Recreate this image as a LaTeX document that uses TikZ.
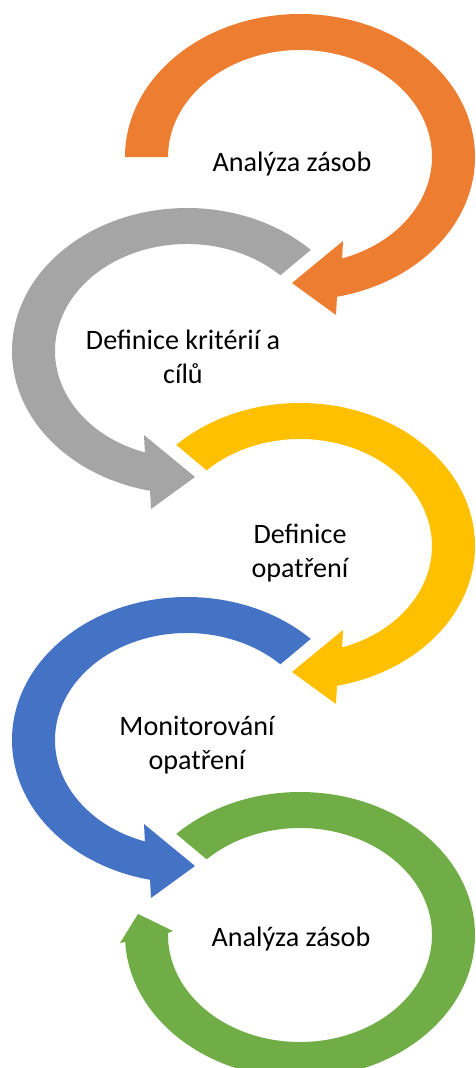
\documentclass[tikz,border=0pt]{standalone}
\usepackage{fontspec}
\setmainfont{Carlito}
\usepackage{tikz}
\usetikzlibrary{positioning}
\definecolor{accorange}{HTML}{ED7D31}
\definecolor{accgray}{HTML}{A5A5A5}
\definecolor{accyellow}{HTML}{FFC000}
\definecolor{accblue}{HTML}{4472C4}
\definecolor{accgreen}{HTML}{70AD47}

\begin{document}
\begin{tikzpicture}[x=0.02cm, y=0.02cm,
  steplabel/.style={align=center, inner sep=0pt, font=\fontsize{16}{19.5}\selectfont}]
\useasboundingbox (0,0) rectangle (476,-1068);
\clip (0,0) rectangle (476,-1068);
% orange, open at the left, arrow at the bottom
\begin{scope}[shift={(300,-157)}]
\fill [accorange] (180:175 and 143) arc [start angle=180, end angle=-77.8, x radius=175, y radius=143]
  -- (36,-158) -- (-8,-126) -- (43,-84) -- (-71.4:132 and 107)
  arc [start angle=-71.4, end angle=180, x radius=132, y radius=107] -- cycle;
\end{scope}
% gray
\begin{scope}[shift={(187,-351)}]
\fill [accgray] (45:175 and 143) arc [start angle=45, end angle=257.8, x radius=175, y radius=143]
  -- (-36,-158) -- (8,-126) -- (-43,-84) -- (251.4:132 and 107)
  arc [start angle=251.4, end angle=45, x radius=132, y radius=107] -- cycle;
\end{scope}
% yellow
\begin{scope}[shift={(300,-546)}]
\fill [accyellow] (135:175 and 143) arc [start angle=135, end angle=-77.8, x radius=175, y radius=143]
  -- (36,-158) -- (-8,-126) -- (43,-84) -- (-71.4:132 and 107)
  arc [start angle=-71.4, end angle=135, x radius=132, y radius=107] -- cycle;
\end{scope}
% blue
\begin{scope}[shift={(187,-740)}]
\fill [accblue] (45:175 and 143) arc [start angle=45, end angle=257.8, x radius=175, y radius=143]
  -- (-36,-158) -- (8,-126) -- (-43,-84) -- (251.4:132 and 107)
  arc [start angle=251.4, end angle=45, x radius=132, y radius=107] -- cycle;
\end{scope}
% green, arrow back up on the left
\begin{scope}[shift={(300,-935)}]
\fill [accgreen] (135:175 and 143) arc [start angle=135, end angle=-177.2, x radius=175, y radius=143]
  -- (-180,-8) -- (-162,21) -- (-127,4) -- (-181.1:132 and 107)
  arc [start angle=-181.1, end angle=135, x radius=132, y radius=107] -- cycle;
\end{scope}
% labels
\node [steplabel] (analyza) at (292,-164) {Analýza zásob};
\node [steplabel] (kriteria) at (183,-357) {Definice kritérií a\\cílů};
\node [steplabel] (opatreni) at (300,-553) {Definice\\opatření};
\node [steplabel] (monitor) at (197,-745) {Monitorování\\opatření};
\node [steplabel] (analyza2) at (291,-939) {Analýza zásob};
\end{tikzpicture}
\end{document}
